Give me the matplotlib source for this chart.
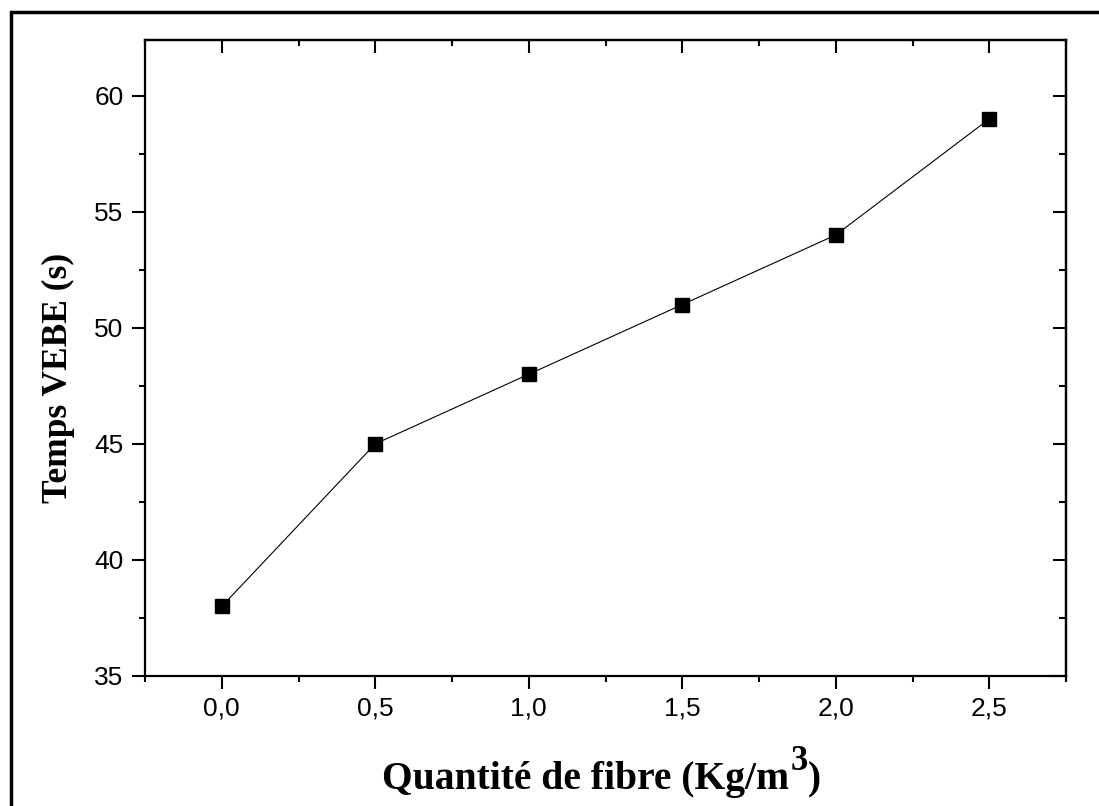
import numpy as np
import matplotlib.pyplot as plt
from matplotlib.patches import Rectangle
from matplotlib.ticker import MultipleLocator, FuncFormatter

# fibre dosage (kg/m3) vs VEBE time (s)
fibre = [0.0, 0.5, 1.0, 1.5, 2.0, 2.5]
vebe = [38, 45, 48, 51, 54, 59]

def comma(v, pos):
    return ('%.1f' % v).replace('.', ',')

def set_locators(axis_x, axis_y):
    if axis_x is not None:
        axis_x.set_major_locator(MultipleLocator(0.5))
        axis_x.set_minor_locator(MultipleLocator(0.25))
    if axis_y is not None:
        axis_y.set_major_locator(MultipleLocator(5))
        axis_y.set_minor_locator(MultipleLocator(2.5))

def main():
    W, H = 1099, 806
    fig = plt.figure(figsize=(W / 100, H / 100), dpi=100)
    ax = fig.add_axes([145 / W, 1 - 676 / H, (1066 - 145) / W, (676 - 40) / H])

    ax.plot(fibre, vebe, color='black', lw=0.8, marker='s', ms=10,
            mfc='black', mec='black')

    ax.set_xlim(-0.25, 2.75)
    ax.set_ylim(35, 62.4)
    set_locators(ax.xaxis, ax.yaxis)
    ax.xaxis.set_major_formatter(FuncFormatter(comma))

    for s in ax.spines.values():
        s.set_linewidth(1.6)

    ax.tick_params(which='major', direction='out', length=9, width=1.5,
                   labelsize=19, pad=6)
    ax.tick_params(which='minor', direction='out', length=4.5, width=1.5)
    ax.tick_params(axis='y', which='major', length=9.5, pad=6)

    for lbl in ax.get_xticklabels() + ax.get_yticklabels():
        lbl.set_family('Liberation Sans')

    # inward ticks on the top and right, no labels
    top = ax.secondary_xaxis('top')
    set_locators(top.xaxis, None)
    top.tick_params(which='major', direction='in', length=9, width=1.5, labeltop=False)
    top.tick_params(which='minor', direction='in', length=4.5, width=1.5)
    right = ax.secondary_yaxis('right')
    set_locators(None, right.yaxis)
    right.tick_params(which='major', direction='in', length=9.5, width=1.5, labelright=False)
    right.tick_params(which='minor', direction='in', length=5, width=1.5)
    for sec in (top, right):
        for s in sec.spines.values():
            s.set_linewidth(1.6)

    ax.set_ylabel('Temps VEBE (s)', family='Liberation Serif',
                  fontweight='bold', fontsize=25.5)
    ax.yaxis.set_label_coords(-0.076, 0.4686)

    # x label built from pieces so the exponent stays nearly full size
    font = dict(family='Liberation Serif', fontweight='bold', va='baseline', ha='left')
    fig.canvas.draw()
    r = fig.canvas.get_renderer()
    t1 = fig.text(0, 0, 'Quantité de fibre (Kg/m', fontsize=28.5, **font)
    t2 = fig.text(0, 0, '3', fontsize=25, **font)
    t3 = fig.text(0, 0, ')', fontsize=28.5, **font)
    w1 = t1.get_window_extent(r).width
    w2 = t2.get_window_extent(r).width
    w3 = t3.get_window_extent(r).width
    x0 = 601 - (w1 + w2 + w3) / 2
    base = H - 789
    t1.set_position((x0 / W, base / H))
    t2.set_position(((x0 + w1 + 1) / W, (base + 19) / H))
    t3.set_position(((x0 + w1 + w2 + 1) / W, base / H))

    # frame around the whole figure
    fig.patches.append(Rectangle((10.5 / W, -0.1), 1.2, 1 - 11.5 / H + 0.1,
                                 transform=fig.transFigure, fill=False,
                                 lw=2.5, ec='black'))

    fig.savefig('out.png', dpi=100)

if __name__ == '__main__':
    main()
